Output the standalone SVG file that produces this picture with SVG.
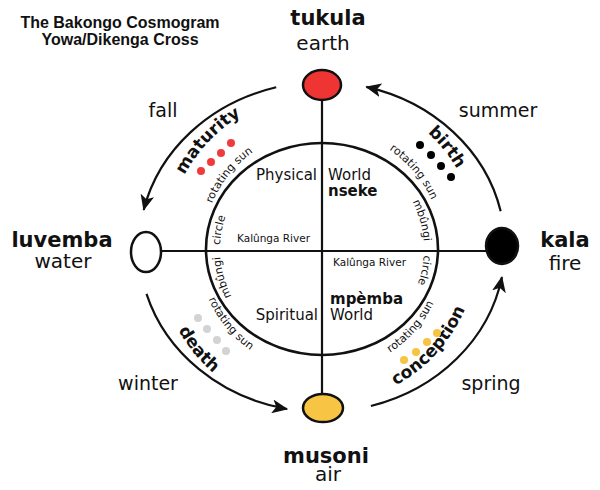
<svg xmlns="http://www.w3.org/2000/svg" width="600" height="490" viewBox="0 0 600 490">
<style>
.t{font-family:"DejaVu Sans","Liberation Sans",sans-serif;fill:#111}
.b{font-weight:bold}
.big{font-size:21px;font-weight:bold}
.sub{font-size:20px}
.season{font-size:19px}
.stage{font-size:17px;font-weight:bold}
.rs{font-size:11px}
.lab{font-size:15px}
.riv{font-size:10.5px}
.ln{fill:none;stroke:#111;stroke-width:2.2}
.node{stroke:#111;stroke-width:2.5}
</style>
<defs>
<marker id="arr" viewBox="0 0 16 14" refX="15" refY="7" markerWidth="16" markerHeight="14" markerUnits="userSpaceOnUse" orient="auto">
<path d="M0,0 L16,7 L0,14 L4,7 z" fill="#111"/>
</marker>
<path id="pMat" d="M166.3,239.5 A156,156 0 0 1 304.3,94.0"/>
<path id="pRs1" d="M203.0,252.1 A119,119 0 0 1 298.3,132.4"/>
<path id="pBir" d="M351.4,94.8 A157,157 0 0 1 479.0,251.2"/>
<path id="pRs2" d="M342.8,130.8 A120,120 0 0 1 442,249"/>
<path id="pDea" d="M157.0,246.4 A165,165 0 0 0 290.8,411.0"/>
<path id="pRs3" d="M198.0,247.3 A124,124 0 0 0 298.8,370.8"/>
<path id="pCon" d="M343.0,402.6 A155,155 0 0 0 476.9,254.95"/>
<path id="pRs4" d="M340.8,371.6 A124,124 0 0 0 446.0,251.8"/>
<path id="pCirL" d="M225.85,283.05 A102,102 0 0 1 244.44,182.76"/>
<path id="pMbL" d="M251.14,322.37 A102,102 0 0 1 223.03,224.32"/>
<path id="pMbR" d="M392.86,175.63 A102,102 0 0 1 420.97,273.68"/>
<path id="pCirR" d="M411.89,200.8 A102,102 0 0 1 385.08,329.16"/>
</defs>
<rect width="600" height="490" fill="#fff"/>

<g id="title">
<text x="120" y="28" text-anchor="middle" style="font-family:'Liberation Sans',sans-serif;font-weight:bold;font-size:16px;fill:#111">The Bakongo Cosmogram</text>
<text x="120" y="45" text-anchor="middle" style="font-family:'Liberation Sans',sans-serif;font-weight:bold;font-size:16px;fill:#111">Yowa/Dikenga Cross</text>
</g>

<g id="connectors">
<line class="ln" x1="322" y1="100" x2="322" y2="394"/>
<line class="ln" x1="162" y1="251" x2="486" y2="251"/>
<ellipse id="inner-circle" class="ln" cx="322" cy="249" rx="116" ry="106" style="stroke-width:2.6"/>
<path class="ln" d="M276.2,87.3 A183,165 0 0 0 143.7,209.9" marker-end="url(#arr)"/>
<path class="ln" d="M500.7,211.3 A183,165 0 0 0 366.3,86.9" marker-end="url(#arr)"/>
<path class="ln" d="M146.5,293.9 A183,165 0 0 0 287.1,409" marker-end="url(#arr)"/>
<path class="ln" d="M370.9,406 A183,165 0 0 0 501.9,277.1" marker-end="url(#arr)"/>
</g>

<g id="node-tukula">
<ellipse class="node" cx="322" cy="85" rx="19" ry="15" fill="#ef3434"/>
<text class="t big" x="328" y="25" text-anchor="middle">tukula</text>
<text class="t sub" x="323" y="50" text-anchor="middle">earth</text>
</g>
<g id="node-musoni">
<ellipse class="node" cx="323" cy="408" rx="20" ry="14" fill="#f8c444"/>
<text class="t big" x="326" y="463" text-anchor="middle">musoni</text>
<text class="t sub" x="328" y="481" text-anchor="middle">air</text>
</g>
<g id="node-luvemba">
<ellipse class="node" cx="146" cy="252" rx="15" ry="20" fill="#fff"/>
<text class="t big" x="62" y="247" text-anchor="middle">luvemba</text>
<text class="t sub" x="63" y="268" text-anchor="middle">water</text>
</g>
<g id="node-kala">
<ellipse class="node" cx="502" cy="246" rx="16" ry="18" fill="#000"/>
<text class="t big" x="565" y="247" text-anchor="middle">kala</text>
<text class="t sub" x="565" y="270" text-anchor="middle">fire</text>
</g>

<g id="seasons">
<text class="t season" x="163" y="117" text-anchor="middle">fall</text>
<text class="t season" x="498" y="117" text-anchor="middle">summer</text>
<text class="t season" x="148" y="390" text-anchor="middle">winter</text>
<text class="t season" x="491" y="390" text-anchor="middle">spring</text>
</g>

<g id="stage-maturity">
<text class="t stage"><textPath href="#pMat" startOffset="50%" text-anchor="middle">maturity</textPath></text>
<text class="t rs"><textPath href="#pRs1" startOffset="50%" text-anchor="middle">rotating sun</textPath></text>
<g fill="#ef3b3b"><circle cx="201" cy="171" r="4"/><circle cx="211" cy="162" r="4"/><circle cx="221" cy="153" r="4"/><circle cx="231" cy="143" r="4"/></g>
</g>
<g id="stage-birth">
<text class="t stage"><textPath href="#pBir" startOffset="50%" text-anchor="middle">birth</textPath></text>
<text class="t rs"><textPath href="#pRs2" startOffset="50%" text-anchor="middle">rotating sun</textPath></text>
<g fill="#000"><circle cx="420" cy="145" r="4"/><circle cx="431" cy="155" r="4"/><circle cx="441" cy="166" r="4"/><circle cx="451" cy="177" r="4"/></g>
</g>
<g id="stage-death">
<text class="t stage"><textPath href="#pDea" startOffset="50%" text-anchor="middle">death</textPath></text>
<text class="t rs"><textPath href="#pRs3" startOffset="50%" text-anchor="middle">rotating sun</textPath></text>
<g fill="#d3d3d3"><circle cx="198" cy="318" r="4"/><circle cx="207" cy="329" r="4"/><circle cx="217" cy="340" r="4"/><circle cx="226" cy="351" r="4"/></g>
</g>
<g id="stage-conception">
<text class="t stage"><textPath href="#pCon" startOffset="50%" text-anchor="middle">conception</textPath></text>
<text class="t rs"><textPath href="#pRs4" startOffset="50%" text-anchor="middle">rotating sun</textPath></text>
<g fill="#f6c342"><circle cx="404" cy="360" r="4"/><circle cx="416" cy="352" r="4"/><circle cx="427" cy="342" r="4"/><circle cx="437" cy="333" r="4"/></g>
</g>

<g id="inner-labels">
<text class="t rs"><textPath href="#pCirL" startOffset="50%" text-anchor="middle">circle</textPath></text>
<text class="t rs"><textPath href="#pMbL" startOffset="50%" text-anchor="middle">mbûngi</textPath></text>
<text class="t rs"><textPath href="#pMbR" startOffset="50%" text-anchor="middle">mbûngi</textPath></text>
<text class="t rs"><textPath href="#pCirR" startOffset="50%" text-anchor="middle">circle</textPath></text>
<text class="t lab" x="317" y="180" text-anchor="end">Physical</text>
<text class="t lab" x="328" y="180">World</text>
<text class="t lab b" x="328" y="196">nseke</text>
<text class="t lab b" x="330" y="304">mpèmba</text>
<text class="t lab" x="330" y="320">World</text>
<text class="t lab" x="318" y="320" text-anchor="end">Spiritual</text>
<text class="t riv" x="237" y="242">Kalûnga River</text>
<text class="t riv" x="333" y="266">Kalûnga River</text>
</g>
</svg>
